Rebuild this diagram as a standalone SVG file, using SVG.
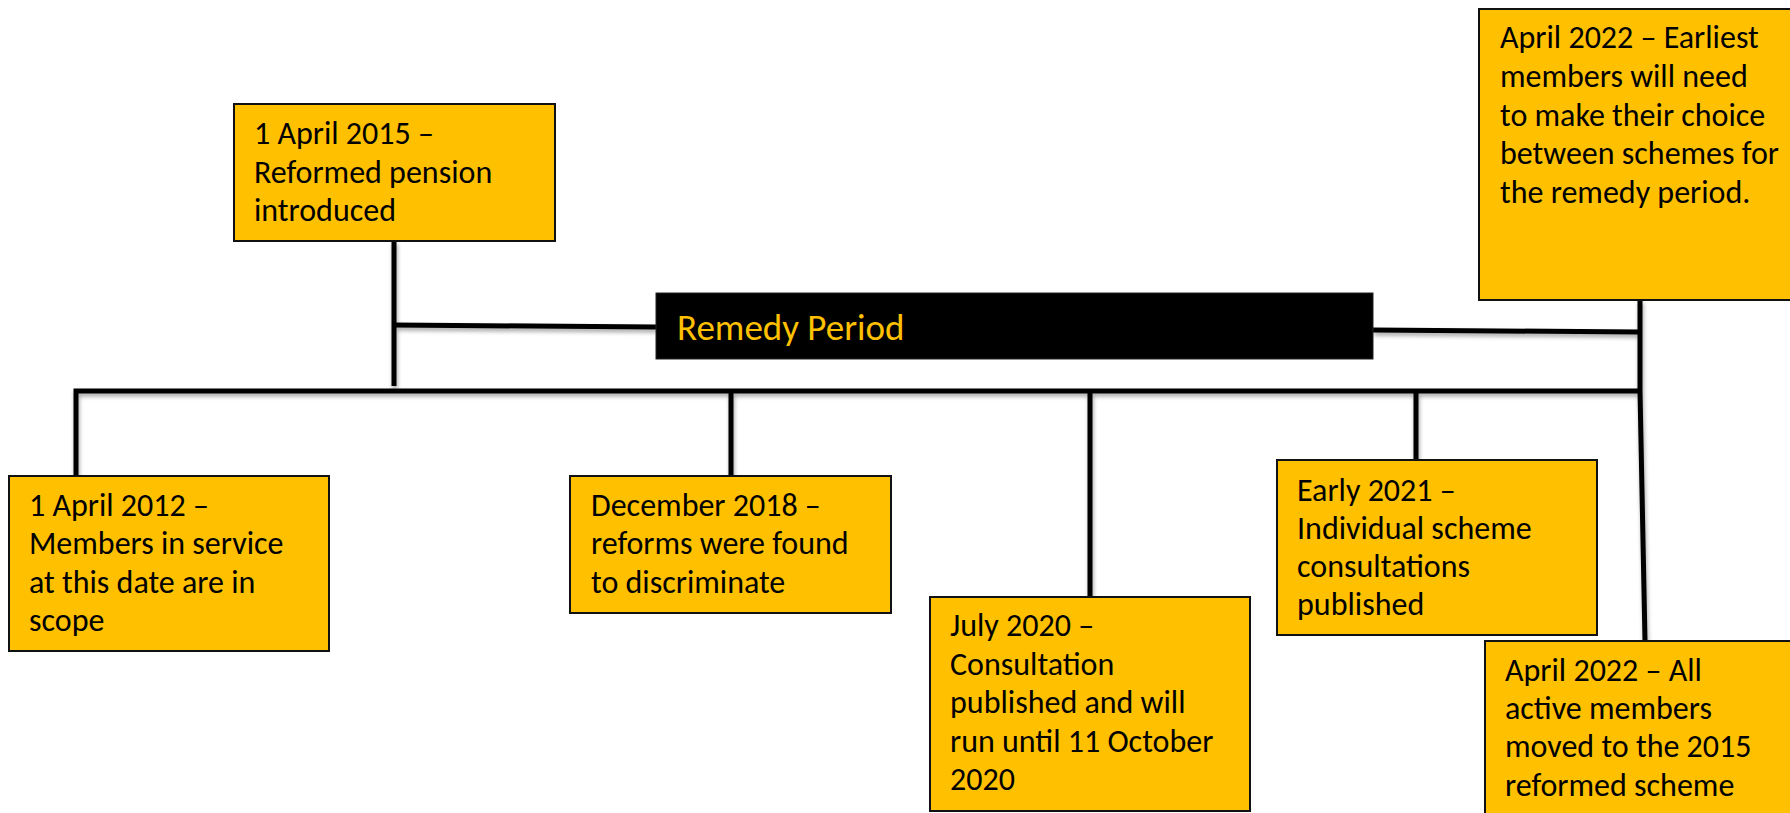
<svg xmlns="http://www.w3.org/2000/svg" width="1790" height="813" viewBox="0 0 1790 813">
<style>
.box{fill:#FFC000;stroke:#111;stroke-width:2}
.t{font-family:Carlito,Calibri,Lato,"Liberation Sans",sans-serif;font-size:32px;fill:#000}
.rp{font-family:Carlito,Calibri,Lato,"Liberation Sans",sans-serif;font-size:37px;fill:#FFC000}
.ln{fill:none;stroke:#000;stroke-width:5;stroke-linejoin:miter}
</style>
<defs>
<filter id="sh" x="-5%" y="-5%" width="110%" height="110%">
<feGaussianBlur in="SourceAlpha" stdDeviation="2"/>
<feOffset dx="1" dy="3" result="b"/>
<feComponentTransfer><feFuncA type="linear" slope="0.35"/></feComponentTransfer>
<feMerge><feMergeNode/><feMergeNode in="SourceGraphic"/></feMerge>
</filter>
</defs>
<rect width="1790" height="813" fill="#fff"/>
<g id="connectors" filter="url(#sh)">
<path class="ln" d="M394,241 V386"/>
<path class="ln" d="M394,325 L656,327"/>
<path class="ln" d="M1373,330 L1640,332"/>
<path class="ln" d="M76,476 V391 H1640"/>
<path class="ln" d="M731,391 V476"/>
<path class="ln" d="M1090,391 V597"/>
<path class="ln" d="M1416,391 V460"/>
<path class="ln" d="M1640,300 V391 L1645,641"/>
</g>
<g id="n2015">
<rect class="box" x="234" y="104" width="321" height="137"/>
<text class="t" x="254" y="144">1 April 2015 –</text>
<text class="t" x="254" y="183">Reformed pension</text>
<text class="t" x="254" y="221">introduced</text>
</g>
<g id="remedy">
<rect x="656" y="293" width="717" height="66" fill="#000" stroke="#222" stroke-width="1"/>
<text class="rp" x="677" y="340">Remedy Period</text>
</g>
<g id="n2022top">
<rect class="box" x="1479" y="9" width="320" height="291"/>
<text class="t" x="1500" y="48">April 2022 – Earliest</text>
<text class="t" x="1500" y="87">members will need</text>
<text class="t" x="1500" y="126">to make their choice</text>
<text class="t" x="1500" y="164">between schemes for</text>
<text class="t" x="1500" y="203">the remedy period.</text>
</g>
<g id="n2012">
<rect class="box" x="9" y="476" width="320" height="175"/>
<text class="t" x="29" y="516">1 April 2012 –</text>
<text class="t" x="29" y="554">Members in service</text>
<text class="t" x="29" y="593">at this date are in</text>
<text class="t" x="29" y="631">scope</text>
</g>
<g id="n2018">
<rect class="box" x="570" y="476" width="321" height="137"/>
<text class="t" x="591" y="516">December 2018 –</text>
<text class="t" x="591" y="554">reforms were found</text>
<text class="t" x="591" y="593">to discriminate</text>
</g>
<g id="n2020">
<rect class="box" x="930" y="597" width="320" height="214"/>
<text class="t" x="950" y="636">July 2020 –</text>
<text class="t" x="950" y="675">Consultation</text>
<text class="t" x="950" y="713">published and will</text>
<text class="t" x="950" y="752">run until 11 October</text>
<text class="t" x="950" y="790">2020</text>
</g>
<g id="n2021">
<rect class="box" x="1277" y="460" width="320" height="175"/>
<text class="t" x="1297" y="501">Early 2021 –</text>
<text class="t" x="1297" y="539">Individual scheme</text>
<text class="t" x="1297" y="577">consultations</text>
<text class="t" x="1297" y="615">published</text>
</g>
<g id="n2022bottom">
<rect class="box" x="1485" y="641" width="320" height="190"/>
<text class="t" x="1505" y="681">April 2022 – All</text>
<text class="t" x="1505" y="719">active members</text>
<text class="t" x="1505" y="757">moved to the 2015</text>
<text class="t" x="1505" y="796">reformed scheme</text>
</g>
</svg>
